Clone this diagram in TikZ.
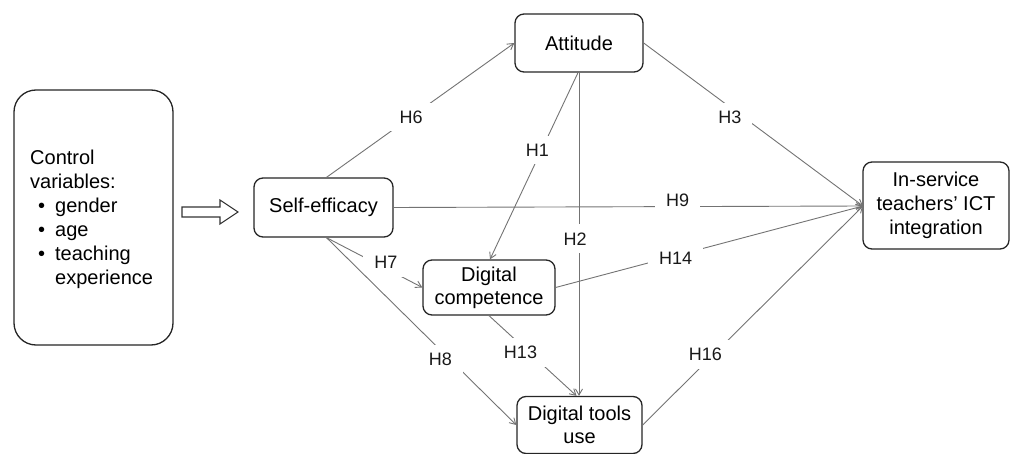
\documentclass[tikz,border=0pt]{standalone}
\usepackage{fontspec}
\setmainfont{Liberation Sans}
\usetikzlibrary{arrows.meta,calc}
\begin{document}
\begin{tikzpicture}[x=1pt,y=-1pt,
  box/.style={draw=black!85,line width=1.3pt,rounded corners=9pt,fill=white,align=center,inner sep=0pt,font=\fontsize{20}{23}\selectfont},
  edge/.style={draw=black!55,line width=0.9pt,-{Straight Barb[length=6pt,width=7pt]}},
  lbl/.style={fill=white,inner xsep=11pt,inner ysep=8pt,font=\fontsize{18}{20}\selectfont,text=black!90}]
\useasboundingbox (0,0) rectangle (1016,454);
% nodes
\node[box,rounded corners=22pt,minimum width=159pt,minimum height=255pt] (ctrl) at (93.5,217.5) {};
\node[anchor=north west,inner sep=0pt,align=left,font=\fontsize{20}{24}\selectfont] (ctrltext) at (30,150)
 {Control\\variables:\\
  \makebox[25pt][l]{\hspace{8pt}•}gender\\
  \makebox[25pt][l]{\hspace{8pt}•}age\\
  \makebox[25pt][l]{\hspace{8pt}•}teaching\\
  \makebox[25pt][l]{}experience};
\node[box,minimum width=139pt,minimum height=59pt] (se) at (323.5,207.5) {Self-efficacy};
\node[box,minimum width=128pt,minimum height=58pt] (att) at (579,43) {Attitude};
\node[box,minimum width=132pt,minimum height=55pt] (dc) at (489,287.5) {Digital\\competence};
\node[box,minimum width=125pt,minimum height=57pt] (dt) at (579.5,425) {Digital tools\\use};
\node[box,minimum width=146pt,minimum height=87pt,font=\fontsize{20}{24}\selectfont] (ict) at (936,205.5) {In-service\\teachers' ICT\\integration};
% hollow arrow
\coordinate (ha) at (182,212);
\draw[black!80,line width=1.1pt,fill=white] (ha) ++(0,-5) -- ++(38,0) -- ++(0,-7) -- ++(18,12) -- ++(-18,12) -- ++(0,-7) -- ++(-38,0) -- cycle;
% edges
\coordinate (in) at (863,206);
\draw[edge] ($(se.north)+(3,0)$) -- node[lbl,pos=0.45] (h6) {H6} (att.west);
\draw[edge] ($(att.south)+(-1,0)$) -- node[lbl,pos=0.415,xshift=-4pt] (h1) {H1} ($(dc.north)+(1,0)$);
\draw[edge] (att.south) -- node[lbl,pos=0.514,xshift=-4pt] (h2) {H2} (att.south |- dt.north);
\draw[edge] (att.east) -- node[lbl,pos=0.43,xshift=-8pt,yshift=-4pt] (h3) {H3} (in);
\draw[edge] (se.east) -- node[lbl,pos=0.605,yshift=6pt] (h9) {H9} (in);
\draw[edge] (dc.east) -- node[lbl,pos=0.39,yshift=-3pt] (h14) {H14} (in);
\draw[edge] ($(se.south)+(3,0)$) -- node[lbl,pos=0.62,yshift=6pt] (h7) {H7} (dc.west);
\draw[edge] ($(se.south)+(3,0)$) -- node[lbl,pos=0.6,yshift=-9pt] (h8) {H8} (dt.west);
\draw[edge] (dc.south) -- node[lbl,pos=0.36,yshift=-8pt] (h13) {H13} ($(dt.north)+(-3,0)$);
\draw[edge] (dt.east) -- node[lbl,pos=0.285,yshift=8pt] (h16) {H16} (in);
\end{tikzpicture}
\end{document}
